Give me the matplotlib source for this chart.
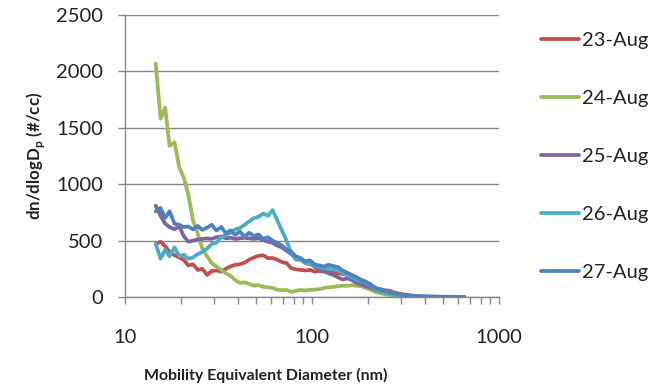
import matplotlib
matplotlib.use("Agg")
import matplotlib.pyplot as plt
from matplotlib.ticker import LogLocator, NullFormatter, FixedLocator

plt.rcParams['font.family'] = ['Lato', 'DejaVu Sans']
plt.rcParams['mathtext.fontset'] = 'custom'
plt.rcParams['mathtext.rm'] = 'Lato'
plt.rcParams['mathtext.bf'] = 'Lato:bold'

diameter_nm = [14.6, 15.5, 16.4, 17.3, 18.4, 19.5, 20.6, 21.8, 23.1, 24.5,
               25.9, 27.5, 29.1, 30.8, 32.7, 34.6, 36.6, 38.8, 41.1, 43.6,
               46.1, 48.9, 51.8, 54.8, 58.1, 61.5, 65.2, 69.0, 73.1, 77.4,
               82.0, 86.9, 92.0, 97.5, 103.3, 109.4, 115.9, 122.7, 130.0, 137.7,
               145.9, 154.5, 163.7, 173.4, 183.7, 194.5, 206.1, 218.3, 231.2, 244.9,
               259.4, 274.8, 291.1, 308.3, 326.6, 346.0, 366.4, 388.2, 411.2, 435.5,
               461.3, 488.7, 517.6, 548.3, 580.8, 615.2, 651.6]

aug23 = [470, 490, 450, 400, 370, 350, 330, 280, 290, 240,
         250, 195, 230, 235, 225, 250, 270, 285, 290, 305,
         330, 350, 365, 370, 345, 345, 330, 310, 300, 255,
         245, 240, 235, 240, 225, 230, 225, 220, 215, 210,
         205, 195, 185, 170, 150, 130, 110, 80, 70, 60,
         55, 40, 30, 22, 18, 12, 8, 5, 3, 2,
         2, 1, 1, 1, 0, 0, 0]

aug24 = [2070, 1580, 1680, 1340, 1370, 1150, 1060, 910, 680, 560,
         430, 360, 300, 270, 240, 210, 190, 150, 125, 130,
         115, 100, 105, 90, 85, 80, 65, 60, 62, 45,
         55, 62, 58, 62, 66, 70, 80, 85, 90, 95,
         100, 100, 105, 100, 95, 80, 65, 45, 35, 25,
         18, 12, 8, 5, 3, 2, 2, 1, 1, 1,
         1, 0, 0, 0, 0, 0, 0]

aug25 = [810, 720, 650, 620, 600, 630, 540, 490, 500, 510,
         515, 520, 515, 530, 535, 520, 525, 515, 520, 525,
         520, 515, 520, 505, 490, 480, 455, 440, 410, 380,
         350, 330, 315, 310, 265, 245, 230, 210, 195, 175,
         155, 165, 150, 125, 110, 95, 80, 65, 50, 40,
         32, 25, 18, 12, 9, 6, 4, 3, 2, 2,
         1, 1, 1, 1, 0, 0, 0]

aug26 = [470, 340, 420, 360, 440, 360, 375, 340, 350, 380,
         400, 430, 470, 480, 530, 550, 570, 600, 610, 640,
         670, 700, 710, 740, 720, 770, 680, 590, 500, 390,
         330, 330, 300, 290, 275, 265, 255, 250, 245, 235,
         215, 195, 175, 150, 140, 125, 100, 70, 50, 40,
         30, 22, 16, 11, 8, 6, 4, 3, 2, 2,
         1, 1, 1, 1, 0, 0, 0]

aug27 = [760, 790, 700, 760, 650, 640, 620, 625, 600, 630,
         595, 615, 640, 590, 620, 565, 590, 550, 580, 535,
         570, 540, 555, 515, 530, 500, 480, 455, 420, 400,
         360, 345, 315, 325, 290, 280, 270, 285, 275, 265,
         235, 215, 195, 175, 150, 135, 110, 80, 65, 55,
         45, 35, 25, 18, 14, 10, 8, 6, 5, 4,
         3, 3, 2, 2, 2, 1, 1]

series_labels = ['23-Aug', '24-Aug', '25-Aug', '26-Aug', '27-Aug']
series_values = [aug23, aug24, aug25, aug26, aug27]
series_colors = ['#C0504D', '#9BBB59', '#8064A2', '#4BACC6', '#4F81BD']

y_ticks = [0, 500, 1000, 1500, 2000, 2500]
x_ticks = [10, 100, 1000]

W, H = 661, 387
fig = plt.figure(figsize=(W / 100, H / 100), dpi=100)
ax = fig.add_axes([125 / W, (H - 297) / H, (499 - 125) / W, (297 - 15) / H])

for lab, vals, col in zip(series_labels, series_values, series_colors):
    ax.plot(diameter_nm, vals, color=col, lw=2.7, label=lab,
            solid_joinstyle='round', solid_capstyle='round')

grid_col = '#868686'
txt_col = '#222222'
ax.set_xscale('log')
ax.set_xlim(10, 1000)
ax.set_ylim(0, 2500)
ax.yaxis.set_major_locator(FixedLocator(y_ticks))
ax.xaxis.set_major_locator(FixedLocator(x_ticks))
ax.xaxis.set_minor_locator(LogLocator(base=10, subs=range(2, 10)))
ax.xaxis.set_minor_formatter(NullFormatter())
ax.set_xticklabels([str(t) for t in x_ticks])
ax.set_yticklabels([str(t) for t in y_ticks])
ax.grid(axis='y', color=grid_col, lw=1.0)
ax.set_axisbelow(True)
for s in ['top', 'right']:
    ax.spines[s].set_visible(False)
for s in ['left', 'bottom']:
    ax.spines[s].set_color(grid_col)
    ax.spines[s].set_linewidth(1.0)
ax.tick_params(axis='x', which='both', direction='out', length=5, width=1,
               color=grid_col, labelsize=14.5, pad=18, labelcolor=txt_col)
ax.tick_params(axis='y', which='both', direction='out', length=5, width=1,
               color=grid_col, labelsize=14.5, pad=11, labelcolor=txt_col)

fig.text(36 / W, 1 - 156 / H, r'dn/dlogD$_\mathbf{p}$ (#/cc)', rotation=90,
         ha='center', va='center', fontsize=12.2, fontweight='bold', color=txt_col)
fig.text(266 / W, 1 - 375 / H, 'Mobility Equivalent Diameter (nm)',
         ha='center', va='center', fontsize=11.4, fontweight='bold', color=txt_col)

leg = fig.legend(loc='upper left', bbox_to_anchor=(541 / W, 1 - 32 / H),
                 frameon=False, fontsize=14.5, handlelength=1.9,
                 handletextpad=0.15, labelspacing=2.03, borderpad=0,
                 borderaxespad=0)
for t in leg.get_texts():
    t.set_color(txt_col)

fig.savefig('out.png', dpi=100)
